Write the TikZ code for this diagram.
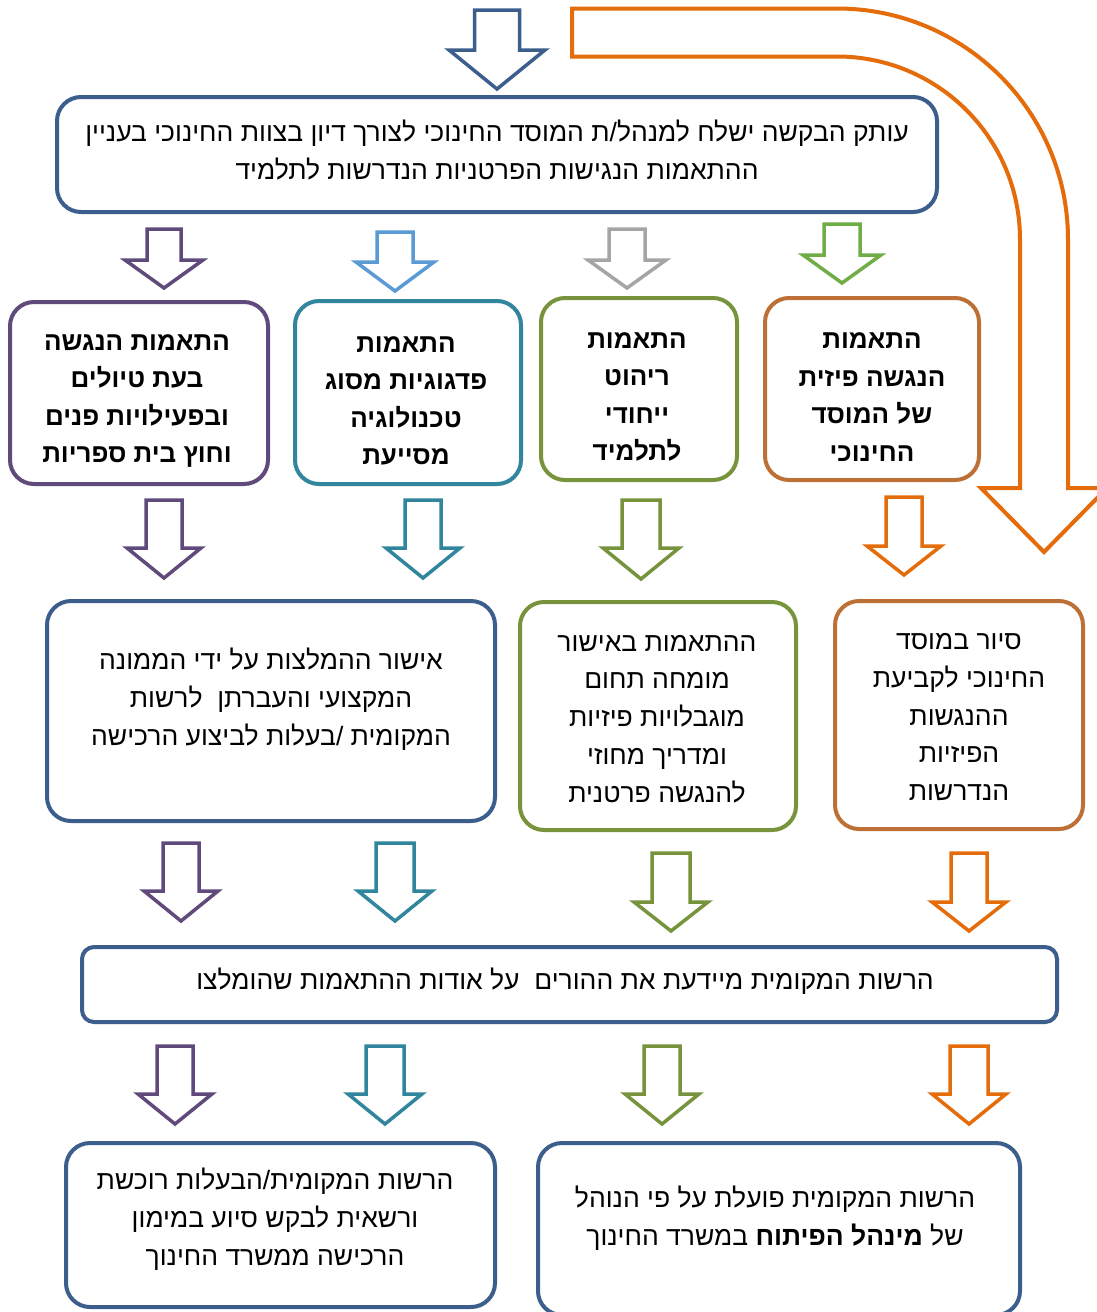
\documentclass[tikz,border=0pt]{standalone}
\usepackage{fontspec}
\newfontfamily\hebfont[Script=Hebrew]{Liberation Sans}
\TeXXeTstate=1
\newcommand\hb[1]{\beginR #1\endR}
\definecolor{cblue}{RGB}{59,94,140}
\definecolor{cpurple}{RGB}{96,74,123}
\definecolor{clblue}{RGB}{91,155,213}
\definecolor{cteal}{RGB}{49,133,156}
\definecolor{cgray}{RGB}{165,165,165}
\definecolor{cgreen}{RGB}{112,173,71}
\definecolor{colive}{RGB}{119,147,60}
\definecolor{cbrown}{RGB}{188,112,54}
\definecolor{corange}{RGB}{228,108,10}
% block arrow: style, cx, top, neck, tip, shaft half width, head half width
\newcommand\barr[7]{\draw[#1,line width=3.5pt,line join=miter,fill=white]
  (#2-#6,#3) -- (#2+#6,#3) -- (#2+#6,#4) -- (#2+#7,#4) -- (#2,#5) -- (#2-#7,#4) -- (#2-#6,#4) -- cycle;}
\begin{document}
\begin{tikzpicture}[x=1pt,y=-1pt,
  box/.style={draw=#1,line width=4pt,rounded corners=24pt,fill=white,inner sep=0pt},
  txt/.style={align=center,inner sep=0pt,font=\hebfont\fontsize{26.5}{37.8}\selectfont},
  btxt/.style={align=center,inner sep=0pt,font=\hebfont\bfseries\fontsize{26}{37.5}\selectfont}]
\useasboundingbox[fill=white] (0,0) rectangle (1096,1312);

% curved orange arrow
\draw[corange,line width=4pt,line join=miter,fill=white]
  (572,8.5) -- (837,8.5) arc[start angle=-90,end angle=0,radius=231]
  -- (1068,488) -- (1107,488) -- (1044,552) -- (981,488) -- (1020,488)
  -- (1020,239.5) arc[start angle=0,end angle=-90,radius=183]
  -- (572,56.5) -- cycle;

% top arrow
\barr{cblue}{497}{10}{50}{89}{22.5}{48}

% top box
\node[box=cblue,minimum width=880,minimum height=115] (top) at (497,154.5) {};
\node[txt] (ttop) at (497,150) {\hb{עותק הבקשה ישלח למנהל/ת המוסד החינוכי לצורך דיון בצוות החינוכי בעניין}\\
\hb{ההתאמות הנגישות הפרטניות הנדרשות לתלמיד}};

% row 1 arrows
\barr{cpurple}{164}{229}{260}{288}{17}{39}
\barr{clblue}{395}{232}{262}{291}{18}{39}
\barr{cgray}{627}{229}{260}{288}{18}{39}
\barr{cgreen}{842}{224}{255}{283}{18}{39}

% row 2 boxes
\node[box=cpurple,minimum width=258,minimum height=182] (b1) at (139,393) {};
\node[btxt] (t1) at (137,401) {\hb{התאמות הנגשה}\\ \hb{בעת טיולים}\\ \hb{ובפעילויות פנים}\\ \hb{וחוץ בית ספריות}};
\node[box=cteal,minimum width=226,minimum height=183] (b2) at (408,392.5) {};
\node[btxt] (t2) at (406,401) {\hb{התאמות}\\ \hb{פדגוגיות מסוג}\\ \hb{טכנולוגיה}\\ \hb{מסייעת}};
\node[box=colive,minimum width=196,minimum height=182] (b3) at (639,389) {};
\node[btxt] (t3) at (637,397) {\hb{התאמות}\\ \hb{ריהוט}\\ \hb{ייחודי}\\ \hb{לתלמיד}};
\node[box=cbrown,minimum width=214,minimum height=182] (b4) at (872,389) {};
\node[btxt] (t4) at (872,397) {\hb{התאמות}\\ \hb{הנגשה פיזית}\\ \hb{של המוסד}\\ \hb{החינוכי}};

% row 2 arrows
\barr{cpurple}{164}{500}{548}{578}{18}{37}
\barr{cteal}{423}{500}{548}{578}{18}{37}
\barr{colive}{641}{500}{548}{579}{19}{38}
\barr{corange}{904}{497}{546}{575}{18}{37}

% row 3 boxes
\node[box=cblue,minimum width=448,minimum height=220] (b5) at (271,711) {};
\node[txt] (t5) at (271,699) {\hb{אישור ההמלצות על ידי הממונה}\\ \hb{המקצועי והעברתן~ לרשות}\\ \hb{המקומית /בעלות לביצוע הרכישה}};
\node[box=colive,minimum width=276,minimum height=228] (b6) at (658,716) {};
\node[txt] (t6) at (657,719) {\hb{ההתאמות באישור}\\ \hb{מומחה תחום}\\ \hb{מוגבלויות פיזיות}\\ \hb{ומדריך מחוזי}\\ \hb{להנגשה פרטנית}};
\node[box=cbrown,minimum width=248,minimum height=228] (b7) at (959,715) {};
\node[txt] (t7) at (959,717) {\hb{סיור במוסד}\\ \hb{החינוכי לקביעת}\\ \hb{ההנגשות}\\ \hb{הפיזיות}\\ \hb{הנדרשות}};

% row 3 arrows
\barr{cpurple}{181}{843}{891}{921}{18}{37}
\barr{cteal}{395}{843}{891}{921}{19}{37}
\barr{colive}{671}{853}{902}{931}{19}{37}
\barr{corange}{969}{853}{902}{931}{18}{37}

% row 4 box
\node[box=cblue,rounded corners=12pt,minimum width=975,minimum height=75] (b8) at (569.5,984.5) {};
\node[txt] (t8) at (565,981) {\hb{הרשות המקומית מיידעת את ההורים~ על אודות ההתאמות שהומלצו}};

% row 4 arrows
\barr{cpurple}{175}{1046}{1094}{1124}{18}{37}
\barr{cteal}{385}{1046}{1094}{1124}{19}{37}
\barr{colive}{662}{1046}{1094}{1124}{18}{37}
\barr{corange}{969}{1046}{1094}{1124}{19}{37}

% bottom boxes
\node[box=cblue,minimum width=429,minimum height=164] (b9) at (280.5,1225) {};
\node[txt] (t9) at (275,1219) {\hb{הרשות המקומית/הבעלות רוכשת}\\ \hb{ורשאית לבקש סיוע במימון}\\ \hb{הרכישה ממשרד החינוך}};
\node[box=cblue,minimum width=482,minimum height=172] (b10) at (779,1229) {};
\node[txt] (t10) at (775,1218) {\hb{הרשות המקומית פועלת על פי הנוהל}\\ \hb{של \textbf{מינהל הפיתוח} במשרד החינוך}};
\end{tikzpicture}
\end{document}
